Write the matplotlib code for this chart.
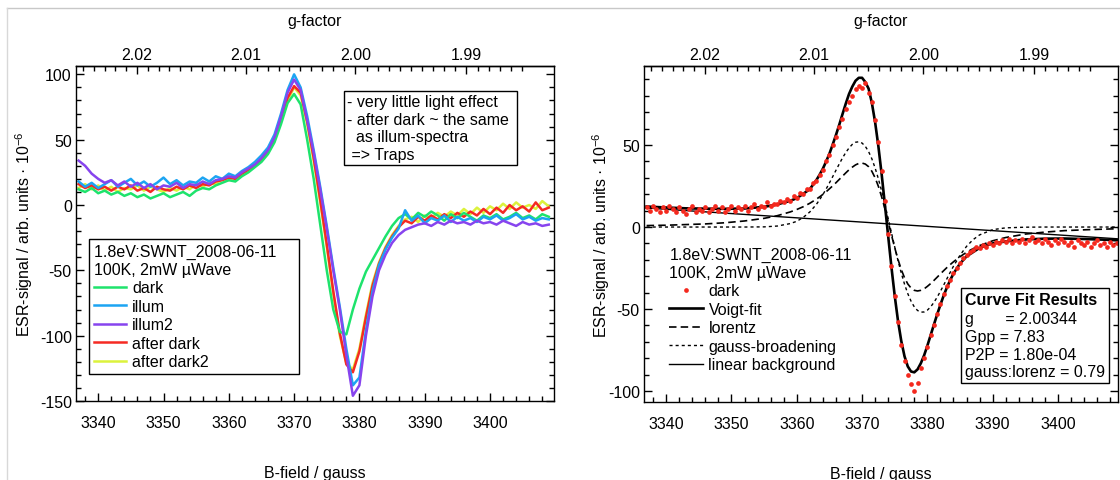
import numpy as np
import matplotlib
matplotlib.use("Agg")
import matplotlib.pyplot as plt
from matplotlib.lines import Line2D
from matplotlib.ticker import MultipleLocator, FixedLocator, FormatStrFormatter
from matplotlib.offsetbox import AnchoredText, AnchoredOffsetbox, TextArea, VPacker

FS = 11.5
plt.rcParams["font.family"] = ["Liberation Sans", "DejaVu Sans"]
plt.rcParams["mathtext.default"] = "regular"
plt.rcParams["axes.unicode_minus"] = False
plt.rcParams["font.size"] = FS

# g = G_CONST / B  (B in gauss)
G_CONST = 6758.8

# ---------------- left panel: spectra (1 G steps, 3337..3409) ----------------
field = np.arange(3337, 3410)

dark = [12, 10, 13, 9, 11, 8, 10, 7, 9, 6,
        8, 5, 7, 9, 6, 8, 10, 7, 11, 13,
        12, 15, 17, 19, 18, 22, 25, 29, 33, 39,
        48, 62, 78, 85, 77, 50, 20, -15, -50, -80,
        -97, -99, -80, -64, -51, -42, -33, -24, -16, -10,
        -7, -11, -6, -9, -5, -8, -12, -7, -10, -6,
        -9, -12, -8, -10, -7, -11, -9, -6, -10, -8,
        -11, -7, -9]
illum = [18, 14, 17, 13, 16, 19, 14, 17, 20, 15,
         18, 14, 17, 21, 16, 19, 15, 18, 17, 21,
         18, 22, 20, 24, 22, 26, 29, 33, 38, 44,
         54, 70, 88, 100, 90, 68, 42, 14, -16, -48,
         -78, -110, -138, -132, -96, -66, -46, -34, -25, -18,
         -4, -12, -8, -14, -10, -12, -8, -13, -9, -12,
         -10, -13, -9, -11, -8, -12, -10, -7, -11, -9,
         -12, -10, -11]
illum2 = [34, 30, 24, 20, 17, 19, 15, 18, 14, 17,
          13, 16, 12, 15, 14, 17, 13, 16, 15, 18,
          16, 19, 20, 22, 21, 25, 28, 31, 36, 42,
          52, 68, 86, 96, 88, 65, 40, 12, -18, -50,
          -80, -115, -146, -138, -100, -70, -50, -38, -29, -23,
          -19, -17, -15, -14, -16, -13, -15, -12, -14, -13,
          -15, -12, -14, -13, -15, -12, -14, -16, -13, -15,
          -14, -16, -15]
after_dark = [16, 13, 15, 12, 14, 11, 14, 12, 15, 11,
              13, 10, 14, 12, 11, 14, 12, 15, 13, 16,
              15, 18, 19, 21, 20, 24, 27, 30, 35, 41,
              51, 66, 82, 91, 86, 64, 36, 4, -30, -66,
              -98, -122, -128, -112, -86, -62, -45, -33, -24, -17,
              -12, -14, -9, -12, -8, -11, -7, -10, -6, -9,
              -5, -8, -3, -7, -2, -6, 0, -4, -1, -5,
              2, -4, -2]
after_dark2 = [13, 16, 12, 15, 11, 14, 10, 13, 12, 15,
               11, 14, 12, 10, 13, 11, 14, 12, 16, 14,
               17, 16, 20, 19, 22, 23, 26, 31, 34, 40,
               50, 64, 80, 90, 84, 62, 34, 2, -32, -68,
               -100, -121, -126, -110, -84, -60, -44, -32, -23, -16,
               -11, -9, -13, -8, -10, -6, -9, -5, -8, -3,
               -7, -2, -6, -1, -4, 1, -3, 2, -2, 0,
               -3, 3, -1]

# ---------------- right panel: dark data (0.5 G steps) + fit ----------------
dot_field = np.arange(3337, 3410, 0.5)
dark_dots = [12, 10, 13, 11, 9, 12, 10, 13, 11, 9,
             12, 10, 8, 11, 13, 9, 11, 10, 12, 9,
             11, 13, 10, 12, 9, 11, 13, 10, 12, 11,
             13, 10, 12, 14, 11, 13, 12, 15, 13, 14,
             14, 16, 15, 17, 16, 19, 18, 21, 20, 23,
             23, 27, 28, 32, 35, 40, 44, 50, 55, 61,
             66, 72, 76, 80, 84, 86, 85, 88, 82, 76,
             65, 52, 34, 16, -4, -24, -42, -58, -72, -82,
             -90, -96, -100, -95, -86, -80, -73, -66, -60, -53,
             -47, -41, -36, -32, -28, -25, -22, -19, -17, -15,
             -14, -12, -13, -11, -12, -10, -11, -9, -10, -8,
             -9, -7, -10, -8, -9, -7, -10, -8, -6, -9,
             -8, -10, -7, -9, -11, -8, -10, -7, -9, -11,
             -9, -12, -8, -10, -11, -9, -12, -10, -8, -11,
             -10, -12, -9, -11, -10, -12]

fit_field = [3337, 3340, 3343, 3346, 3349, 3352, 3355, 3357, 3359, 3360, 3361, 3362, 3363,
             3363.5, 3364, 3364.5, 3365, 3365.5, 3366, 3366.5, 3367, 3367.5, 3368, 3368.5,
             3369, 3369.5, 3370, 3370.5, 3371, 3371.5, 3372, 3372.5, 3373, 3373.5, 3374,
             3374.5, 3375, 3375.5, 3376, 3376.5, 3377, 3377.5, 3378, 3378.5, 3379, 3379.5,
             3380, 3380.5, 3381, 3381.5, 3382, 3382.5, 3383, 3383.5, 3384,
             3385, 3386, 3387, 3388, 3390, 3392, 3395, 3398, 3401, 3404, 3407, 3409.5]
voigt_fit = [12.5, 11.9, 11.4, 11.2, 11.1, 11.3, 12.3, 13.8, 16.0, 17.6, 20.3, 23.1, 28.6,
             31.9, 35.6, 40.0, 44.7, 50.3, 56.1, 62.3, 68.8, 75.2, 81.1, 85.6,
             89.2, 91.0, 91.0, 88.4, 84.4, 75.7, 63.9, 49.2, 32.2, 13.5, -5.6,
             -24.5, -41.9, -57.1, -69.4, -78.8, -85.0, -88.1, -88.6, -86.8, -83.1, -78.3,
             -72.4, -66.0, -59.6, -53.3, -47.4, -41.8, -36.8, -32.4, -28.4,
             -22.3, -17.9, -15.3, -12.7, -10.0, -8.8, -7.6, -7.1, -7.0, -7.3, -7.7, -8.2]
lorentz = [0.9, 1.1, 1.5, 1.9, 2.6, 3.7, 5.3, 6.9, 9.2, 10.7, 12.4, 14.5, 17.0,
           18.4, 19.9, 21.5, 23.3, 25.1, 27.0, 29.0, 31.0, 33.0, 34.9, 36.5,
           37.9, 38.8, 39.0, 38.4, 36.8, 34.0, 30.0, 24.8, 18.4, 11.1, 3.2,
           -4.8, -12.6, -19.7, -25.9, -30.9, -34.7, -37.2, -38.6, -39.0, -38.6, -37.7,
           -36.2, -34.5, -32.6, -30.6, -28.6, -26.6, -24.7, -22.9, -21.2,
           -18.1, -15.4, -13.2, -11.3, -8.4, -6.4, -4.3, -3.1, -2.2, -1.7, -1.3, -1.0]
gauss = [0.0, 0.0, 0.0, 0.0, 0.0, 0.0, 0.1, 0.6, 2.1, 3.5, 5.9, 9.2, 13.8,
         16.7, 19.8, 23.2, 26.9, 30.7, 34.6, 38.4, 42.1, 45.4, 48.2, 50.4,
         51.7, 52.0, 51.2, 49.2, 46.0, 41.6, 36.0, 29.4, 21.9, 13.8, 5.2,
         -3.5, -12.1, -20.4, -28.0, -34.8, -40.6, -45.2, -48.7, -50.9, -51.9, -51.8,
         -50.7, -48.7, -46.0, -42.8, -39.2, -35.4, -31.5, -27.6, -23.9,
         -17.2, -11.8, -7.7, -4.8, -1.6, -0.5, -0.1, 0.0, 0.0, 0.0, 0.0, 0.0]
bg_field = [3336.6, 3409.6]
bg_line = [11.7, -7.3]

g_major = [2.02, 2.01, 2.00, 1.99]
header = "1.8eV:SWNT_2008-06-11\n100K, 2mW µWave"
ylab = "ESR-signal / arb. units · 10$^{-6}$"

W, H = 1120, 481


def px_rect(x0, y0, x1, y1):
    return [x0 / W, 1 - y1 / H, (x1 - x0) / W, (y1 - y0) / H]


def style(ax, xlim, ylim, ylabel_x, label_bottom):
    ax.set_xlim(*xlim)
    ax.set_ylim(*ylim)
    for s in ax.spines.values():
        s.set_linewidth(1.0)
    ax.xaxis.set_major_locator(MultipleLocator(10))
    ax.xaxis.set_minor_locator(MultipleLocator(2))
    ax.yaxis.set_major_locator(MultipleLocator(50))
    ax.yaxis.set_minor_locator(MultipleLocator(10))
    ax.tick_params(which="both", direction="in", top=False, right=True, width=1, labelsize=FS)
    ax.tick_params(which="major", length=6)
    ax.tick_params(which="minor", length=3.5)
    ax.tick_params(axis="x", which="major", pad=10)
    ax.tick_params(axis="y", which="major", pad=3)
    ax.set_xlabel("B-field / gauss", fontsize=FS)
    ax.xaxis.set_label_coords(0.5, label_bottom)
    ax.set_ylabel(ylab, fontsize=FS)
    ax.yaxis.set_label_coords(ylabel_x, 0.5)

    sec = ax.secondary_xaxis("top", functions=(lambda b: G_CONST / b, lambda g: G_CONST / g))
    sec.xaxis.set_major_locator(FixedLocator(g_major))
    sec.xaxis.set_major_formatter(FormatStrFormatter("%.2f"))
    sec.xaxis.set_minor_locator(FixedLocator(np.round(np.arange(1.985, 2.0255, 0.001), 3)))
    sec.tick_params(which="both", direction="in", width=1, labelsize=FS, pad=3)
    sec.tick_params(which="major", length=6)
    sec.tick_params(which="minor", length=3.5)
    sec.spines["top"].set_linewidth(1.0)
    sec.set_xlabel("g-factor", fontsize=FS, labelpad=16)
    return sec


fig = plt.figure(figsize=(11.2, 4.81), dpi=100)

# ---------------- left ----------------
ax1 = fig.add_axes(px_rect(76, 67, 554, 402))
lw = 1.8
l_yel, = ax1.plot(field, after_dark2, color="#dcf23c", lw=lw, zorder=2.0)
l_red, = ax1.plot(field, after_dark, color="#f52a23", lw=lw, zorder=2.1)
l_grn, = ax1.plot(field, dark, color="#1ee36c", lw=lw, zorder=2.2)
l_blu, = ax1.plot(field, illum, color="#1ca4f2", lw=lw, zorder=2.3)
l_pur, = ax1.plot(field, illum2, color="#8744ee", lw=lw, zorder=2.4)
style(ax1, (3336.6, 3409.8), (-150, 106.4), -0.086, -0.19)

leg1 = ax1.legend([l_grn, l_blu, l_pur, l_red, l_yel],
                  ["dark", "illum", "illum2", "after dark", "after dark2"],
                  title="1.8eV:SWNT_2008-06-11    \n100K, 2mW µWave", alignment="left",
                  loc="upper left", bbox_to_anchor=(0.0272, 0.4836), borderaxespad=0,
                  frameon=True, fancybox=False, edgecolor="black", framealpha=1,
                  fontsize=FS, title_fontsize=FS, handlelength=2.0, handletextpad=0.4,
                  labelspacing=0.22, borderpad=0.3)
leg1.get_frame().set_linewidth(1.0)
leg1.get_title().set_linespacing(1.25)

note = AnchoredText("- very little light effect\n- after dark ~ the same \n  as illum-spectra\n => Traps",
                    loc="upper left", bbox_to_anchor=(0.5607, 0.9254), bbox_transform=ax1.transAxes,
                    borderpad=0, pad=0.2, prop=dict(size=FS, linespacing=1.22), frameon=True)
note.patch.set_boxstyle("square,pad=0")
note.patch.set_linewidth(1.0)
ax1.add_artist(note)

# ---------------- right ----------------
ax2 = fig.add_axes(px_rect(644, 67, 1118, 403))
h_lor, = ax2.plot(fit_field, lorentz, color="black", lw=1.2, dashes=(4.5, 2.5), zorder=2.0)
h_gau, = ax2.plot(fit_field, gauss, color="black", lw=1.0, dashes=(2.2, 2.2), zorder=2.0)
h_bg, = ax2.plot(bg_field, bg_line, color="black", lw=1.0, zorder=2.0)
h_voi, = ax2.plot(fit_field, voigt_fit, color="black", lw=1.9, zorder=2.1)
h_dot, = ax2.plot(dot_field, dark_dots, "o", color="#f4291e", ms=3.4, mew=0, zorder=2.5)
style(ax2, (3336.6, 3409.2), (-106.7, 98.2), -0.068, -0.19)

leg2 = ax2.legend([h_dot, h_voi, h_lor, h_gau, h_bg],
                  ["dark", "Voigt-fit", "lorentz", "gauss-broadening", "linear background"],
                  title=header, alignment="left", loc="upper left",
                  bbox_to_anchor=(0.040, 0.481), borderaxespad=0, frameon=False,
                  fontsize=FS, title_fontsize=FS, handlelength=2.1, handletextpad=0.35,
                  labelspacing=0.22, numpoints=1)
leg2.get_title().set_linespacing(1.25)

res_title = TextArea("Curve Fit Results", textprops=dict(size=FS, weight="bold"))
res_body = TextArea("g       = 2.00344\nGpp = 7.83\nP2P = 1.80e-04\ngauss:lorenz = 0.79",
                    textprops=dict(size=FS, linespacing=1.22))
res = AnchoredOffsetbox(loc="upper left", child=VPacker(children=[res_title, res_body],
                                                        align="left", pad=3, sep=3),
                        pad=0, borderpad=0, frameon=True,
                        bbox_to_anchor=(0.6688, 0.3393), bbox_transform=ax2.transAxes)
res.patch.set_boxstyle("square,pad=0")
res.patch.set_linewidth(1.0)
ax2.add_artist(res)

# screenshot frame
fig.add_artist(Line2D([7 / W, 1], [1 - 9 / H, 1 - 9 / H], transform=fig.transFigure,
                      color="#c8c8c8", lw=1))
fig.add_artist(Line2D([7 / W, 7 / W], [0, 1 - 9 / H], transform=fig.transFigure,
                      color="#d8d8d8", lw=1))

fig.savefig("out.png", dpi=100)
